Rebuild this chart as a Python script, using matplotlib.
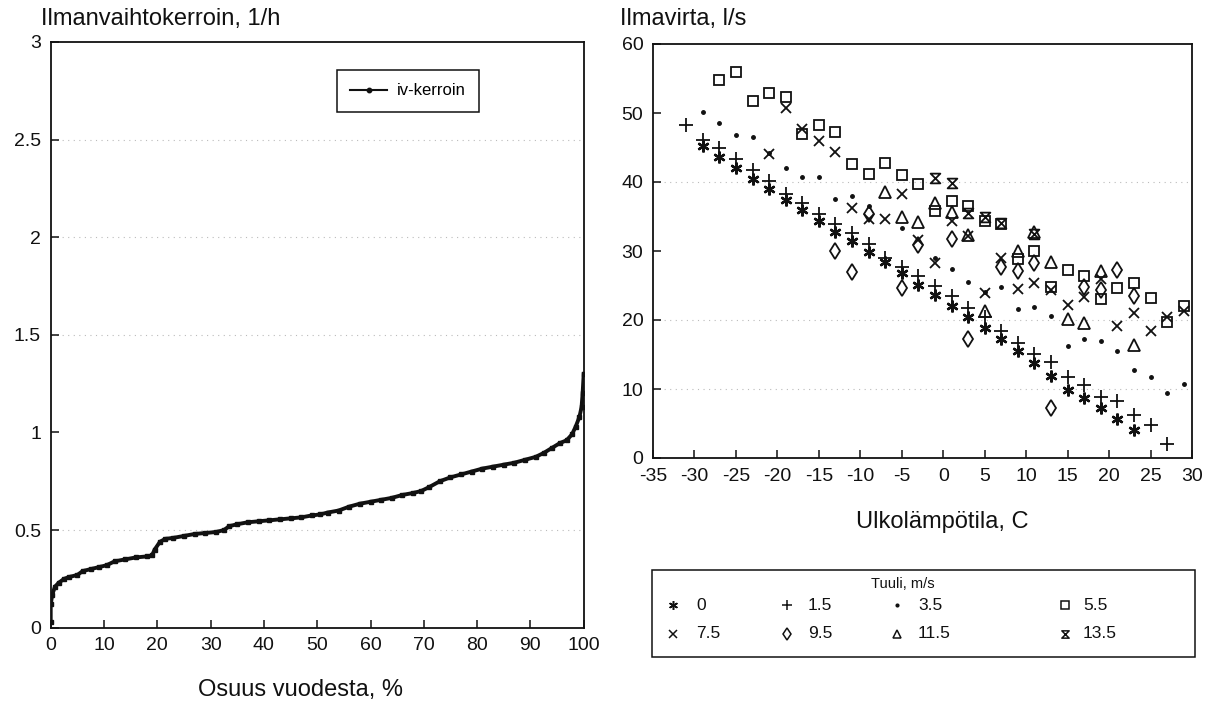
import numpy as np
import matplotlib
matplotlib.use("Agg")
import matplotlib.pyplot as plt
from matplotlib.path import Path
from matplotlib.lines import Line2D
from matplotlib.patches import Rectangle

plt.rcParams['font.family'] = ['Liberation Sans', 'DejaVu Sans']
plt.rcParams['axes.unicode_minus'] = False

# ---------------- Left chart data: duration curve ----------------
share_pct = [0, 0, 0.3, 0.8, 1.5, 2.5, 3.5, 5, 6, 7.5, 9, 10.5, 12, 14, 16, 18, 19, 19.5,
             20.5, 21.5, 23, 25, 27, 29, 31, 32.5, 33.5, 35, 37, 39, 41, 43, 45, 47, 49,
             50.5, 52, 54, 56, 58, 60, 62, 64, 66, 68, 69.5, 71, 73, 75, 77, 79, 81, 83,
             85, 87, 89, 91, 92.5, 94, 95.5, 96.8, 97.8, 98.5, 99.2, 99.6, 99.8, 100]
ach_values = [0.03, 0.12, 0.17, 0.21, 0.23, 0.25, 0.26, 0.27, 0.29, 0.30, 0.31, 0.32, 0.34,
              0.35, 0.36, 0.365, 0.37, 0.40, 0.44, 0.455, 0.46, 0.47, 0.48, 0.485, 0.49,
              0.50, 0.52, 0.53, 0.54, 0.545, 0.55, 0.555, 0.56, 0.565, 0.575, 0.58, 0.59,
              0.60, 0.62, 0.635, 0.645, 0.655, 0.665, 0.68, 0.69, 0.70, 0.72, 0.75, 0.77,
              0.785, 0.80, 0.815, 0.825, 0.835, 0.845, 0.86, 0.875, 0.895, 0.92, 0.945,
              0.96, 0.99, 1.03, 1.08, 1.13, 1.20, 1.30]

# ---------------- Right chart data: airflow vs outdoor temperature ----------------
w0_x = [-29, -27, -25, -23, -21, -19, -17, -15, -13, -11, -9, -7, -5, -3, -1, 1, 3, 5, 7, 9,
        11, 13, 15, 17, 19, 21, 23]
w0_y = [45.2, 43.6, 42.0, 40.4, 39.0, 37.4, 35.9, 34.3, 32.8, 31.4, 29.8, 28.4, 26.8, 25.1,
        23.6, 22.1, 20.4, 18.9, 17.2, 15.5, 13.8, 11.9, 9.9, 8.7, 7.2, 5.7, 4.0]

w15_x = [-31, -29, -27, -25, -23, -21, -19, -17, -15, -13, -11, -9, -7, -5, -3, -1, 1, 3, 5,
         7, 9, 11, 13, 15, 17, 19, 21, 23, 25, 27]
w15_y = [48.2, 46.1, 44.9, 43.3, 41.7, 40.2, 38.3, 36.9, 35.3, 33.9, 32.6, 31.0, 29.0, 27.7,
         26.4, 25.0, 23.5, 21.7, 20.4, 18.4, 16.7, 15.1, 13.9, 11.8, 10.6, 8.9, 8.3, 6.2,
         4.8, 2.0]

w35_x = [-29, -27, -25, -23, -21, -19, -17, -15, -13, -11, -9, -5, -1, 1, 3, 5, 7, 9, 11,
         13, 15, 17, 19, 21, 23, 25, 27, 29]
w35_y = [50.2, 48.5, 46.8, 46.5, 44.2, 42.1, 40.7, 40.7, 37.6, 37.9, 36.5, 33.4, 29.0, 27.4,
         25.5, 24.0, 24.8, 21.6, 21.9, 20.6, 16.3, 17.3, 17.0, 15.5, 12.8, 11.7, 9.4, 10.7]

w55_x = [-27, -25, -23, -21, -19, -17, -15, -13, -11, -9, -7, -5, -3, -1, 1, 3, 5, 7, 9,
         11, 13, 15, 17, 19, 21, 23, 25, 27, 29]
w55_y = [54.8, 56.0, 51.8, 52.9, 52.3, 47.0, 48.3, 47.2, 42.6, 41.1, 42.8, 41.0, 39.7, 35.8,
         37.3, 36.5, 34.3, 33.9, 28.8, 30.0, 24.8, 27.2, 26.4, 23.0, 24.7, 25.4, 23.2,
         19.7, 22.1]

w75_x = [-21, -19, -17, -15, -13, -11, -9, -7, -5, -3, -1, 1, 3, 5, 7, 9, 11, 13, 15, 17,
         19, 21, 23, 25, 27, 29]
w75_y = [44.0, 50.7, 47.7, 46.0, 44.4, 36.2, 34.7, 34.7, 38.3, 31.6, 28.3, 34.3, 32.2, 23.9,
         29.0, 24.5, 25.4, 24.4, 22.2, 23.4, 25.9, 19.1, 21.0, 18.4, 20.4, 21.3]

w95_x = [-13, -11, -9, -5, -3, 1, 3, 7, 9, 11, 13, 17, 19, 21, 23]
w95_y = [30.0, 26.9, 35.4, 24.7, 30.8, 31.8, 17.2, 27.7, 27.1, 28.3, 7.2, 24.8, 24.4, 27.2,
         23.5]

w115_x = [-7, -5, -3, -1, 1, 3, 5, 9, 11, 13, 15, 17, 19, 23]
w115_y = [38.6, 34.9, 34.2, 37.0, 35.7, 32.3, 21.3, 30.0, 32.7, 28.4, 20.2, 19.6, 27.1, 16.4]

w135_x = [-1, 1, 3, 5, 7, 11]
w135_y = [40.6, 39.8, 35.5, 35.0, 34.0, 32.5]

wind_labels = ['0', '1.5', '3.5', '5.5', '7.5', '9.5', '11.5', '13.5']

# ---------------- Figure ----------------
W, H = 1214, 706
fig = plt.figure(figsize=(W / 100, H / 100), dpi=100)
INK = '#111111'


def fx(px):
    return px / W


def fy(py):
    return 1 - py / H


axL = fig.add_axes([fx(50.7), fy(627.7), 533 / W, 585.7 / H])
axR = fig.add_axes([fx(653), fy(458), 539 / W, 414 / H])

for ax in (axL, axR):
    for sp in ax.spines.values():
        sp.set_linewidth(1.3)
        sp.set_color(INK)
    ax.tick_params(direction='in', length=6, width=1.1, labelsize=14, pad=7,
                   colors=INK)

# faint dotted scan-like grid lines
grid_kw = dict(color='#bbbbbb', lw=0.8, ls=(0, (1, 4)), zorder=0)
for yv in (0.5, 1.5, 2.0, 2.5):
    axL.axhline(yv, **grid_kw)
for yv in (10, 20, 40):
    axR.axhline(yv, **grid_kw)

# Left curve
axL.plot(share_pct, ach_values, color=INK, lw=2.8, marker='s', ms=3.4,
         mfc=INK, mec=INK, solid_joinstyle='round', zorder=3)
axL.set_xlim(0, 100)
axL.set_ylim(0, 3)
axL.set_xticks(np.arange(0, 101, 10))
axL.set_yticks([0, 0.5, 1, 1.5, 2, 2.5, 3])
axL.set_yticklabels(['0', '0.5', '1', '1.5', '2', '2.5', '3'])

leg_handle = Line2D([], [], color=INK, lw=1.5, marker='o', ms=3.2, mfc=INK)
legL = axL.legend([leg_handle], ['iv-kerroin'], loc='upper left',
                  bbox_to_anchor=(0.537, 0.952), fancybox=False, edgecolor=INK,
                  fontsize=12, handlelength=2.2, handletextpad=0.6, borderpad=0.8,
                  borderaxespad=0, framealpha=1)
legL.get_frame().set_linewidth(1.1)

# Right scatter
hourglass = Path([(-1, 1), (1, 1), (-1, -1), (1, -1), (-1, 1)],
                 [Path.MOVETO, Path.LINETO, Path.LINETO, Path.LINETO, Path.CLOSEPOLY])

series = [
    (w0_x, w0_y, dict(marker=(6, 2, 0), ms=8.5, mew=1.7)),
    (w15_x, w15_y, dict(marker='+', ms=10, mew=1.3)),
    (w35_x, w35_y, dict(marker='.', ms=5)),
    (w55_x, w55_y, dict(marker='s', ms=7.5, mew=1.3, mfc='none')),
    (w75_x, w75_y, dict(marker='x', ms=7.5, mew=1.3)),
    (w95_x, w95_y, dict(marker='d', ms=8, mew=1.3, mfc='none')),
    (w115_x, w115_y, dict(marker='^', ms=8, mew=1.3, mfc='none')),
    (w135_x, w135_y, dict(marker=hourglass, ms=7, mew=1.3, mfc='none')),
]

handles = []
for (xs, ys, kw), lab in zip(series, wind_labels):
    h, = axR.plot(xs, ys, ls='none', color=INK, mec=INK, label=lab, zorder=3, **kw)
    handles.append(h)

axR.set_xlim(-35, 30)
axR.set_ylim(0, 60)
axR.set_xticks(np.arange(-35, 31, 5))
axR.set_yticks(np.arange(0, 61, 10))

# Wind speed key, drawn below the right chart in a framed box
fig.add_artist(Rectangle((fx(652), fy(657)), 543 / W, 87 / H, transform=fig.transFigure,
                         fill=False, edgecolor=INK, lw=1.1))
fig.text(fx(903), fy(584), 'Tuuli, m/s', fontsize=10.5, ha='center', va='center',
         color=INK)
col_marker_x = [673, 787, 897, 1065]
col_label_x = [696, 808, 918, 1083]
row_y = [605, 634]
for i, src in enumerate(handles):
    row, col = divmod(i, 4)
    fig.add_artist(Line2D([fx(col_marker_x[col])], [fy(row_y[row])],
                          transform=fig.transFigure, ls='none', color=INK,
                          marker=src.get_marker(), ms=src.get_markersize() * 0.75,
                          mew=1.1, mfc=src.get_markerfacecolor(), mec=INK))
    fig.text(fx(col_label_x[col]), fy(row_y[row]), wind_labels[i], fontsize=12.5,
             ha='left', va='center', color=INK)

# Texts
fig.text(fx(41), fy(19), 'Ilmanvaihtokerroin, 1/h', fontsize=17, ha='left', va='center',
         color=INK)
fig.text(fx(620), fy(19), 'Ilmavirta, l/s', fontsize=17, ha='left', va='center',
         color=INK)
fig.text(fx(300), fy(690), 'Osuus vuodesta, %', fontsize=17, ha='center', va='center',
         color=INK)
fig.text(fx(942), fy(522), 'Ulkolämpötila, C', fontsize=17, ha='center', va='center',
         color=INK)

fig.savefig('out.png', dpi=100)
